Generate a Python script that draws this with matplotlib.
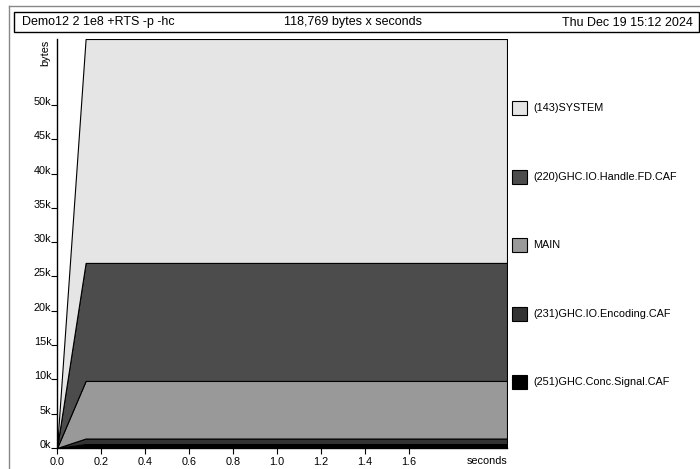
import matplotlib
matplotlib.use("Agg")
import matplotlib.pyplot as plt
from matplotlib.patches import Rectangle
from matplotlib.lines import Line2D

plt.rcParams["font.family"] = ["Liberation Sans", "DejaVu Sans"]

# sample times (seconds) and heap per cost centre (bytes), bottom of the stack first
times = [0.0, 0.13, 2.045]
names = ["(251)GHC.Conc.Signal.CAF", "(231)GHC.IO.Encoding.CAF", "MAIN",
         "(220)GHC.IO.Handle.FD.CAF", "(143)SYSTEM"]
signalCaf = [0, 580, 580]
encodingCaf = [0, 800, 800]
mainCc = [0, 8390, 8390]
handleFdCaf = [0, 17200, 17200]
systemCc = [0, 32630, 32630]
colours = ["#000000", "#333333", "#999999", "#4c4c4c", "#e5e5e5"]

yTicks = [0, 5000, 10000, 15000, 20000, 25000, 30000, 35000, 40000, 45000, 50000]
yTickLabels = [str(v // 1000) + "k" for v in yTicks]
xTicks = [0.0, 0.2, 0.4, 0.6, 0.8, 1.0, 1.2, 1.4, 1.6]
xTickLabels = ["%.1f" % v for v in xTicks]

title = "Demo12 2 1e8 +RTS -p -hc"
summary = "118,769 bytes x seconds"
date = "Thu Dec 19 15:12 2024"

W, H = 700, 469
fs = 7.8
fig = plt.figure(figsize=(W / 100, H / 100), dpi=100)

def px(x, y):
    return x / W, 1 - y / H

# page border and header box
fig.add_artist(Line2D([8.5 / W, 1], [1 - 6 / H, 1 - 6 / H], color="#888888", lw=1))
fig.add_artist(Line2D([8.5 / W, 8.5 / W], [0, 1 - 6 / H], color="#888888", lw=1))
fig.add_artist(Rectangle(px(14, 32), 685 / W, 20 / H, transform=fig.transFigure,
                         fill=False, edgecolor="black", lw=1))
fig.text(*px(22, 22.5), title, ha="left", va="center", fontsize=9)
fig.text(*px(353, 22.5), summary, ha="center", va="center", fontsize=9)
fig.text(*px(693, 22.5), date, ha="right", va="center", fontsize=9)

ax = fig.add_axes([57 / W, (H - 448) / H, 450 / W, 409 / H])
series = [signalCaf, encodingCaf, mainCc, handleFdCaf, systemCc]
ax.stackplot(times, *series, colors=colours, edgecolor="black", linewidth=0.8)
total = [sum(s[i] for s in series) for i in range(len(times))]
ax.set_xlim(0, times[-1])
ax.set_ylim(0, max(total))

for side in ["top", "right"]:
    ax.spines[side].set_visible(False)
ax.spines["left"].set_linewidth(1)
ax.spines["bottom"].set_linewidth(1)

ax.set_yticks(yTicks, yTickLabels)
ax.set_xticks(xTicks, xTickLabels)
ax.tick_params(axis="y", length=4, width=0.8, pad=0, labelsize=fs)
ax.tick_params(axis="x", length=4, width=0.8, pad=2.5, labelsize=fs)
plt.setp(ax.get_yticklabels(), va="baseline")
ax.annotate("seconds", xy=(1, 0), xycoords="axes fraction", xytext=(0, -5.5),
            textcoords="offset points", ha="right", va="top", fontsize=fs)

fig.text(*px(45, 40), "bytes", rotation=90, ha="center", va="top", fontsize=fs)

# key, top entry is the top band
for i, (name, col) in enumerate(zip(names[::-1], colours[::-1])):
    cy = 108 + i * 68.5
    fig.add_artist(Rectangle(px(512, cy + 7), 15 / W, 14 / H, transform=fig.transFigure,
                             facecolor=col, edgecolor="black", lw=0.8))
    fig.text(*px(533, cy), name, ha="left", va="center", fontsize=fs)

plt.savefig("out.png", dpi=100)
plt.close()
